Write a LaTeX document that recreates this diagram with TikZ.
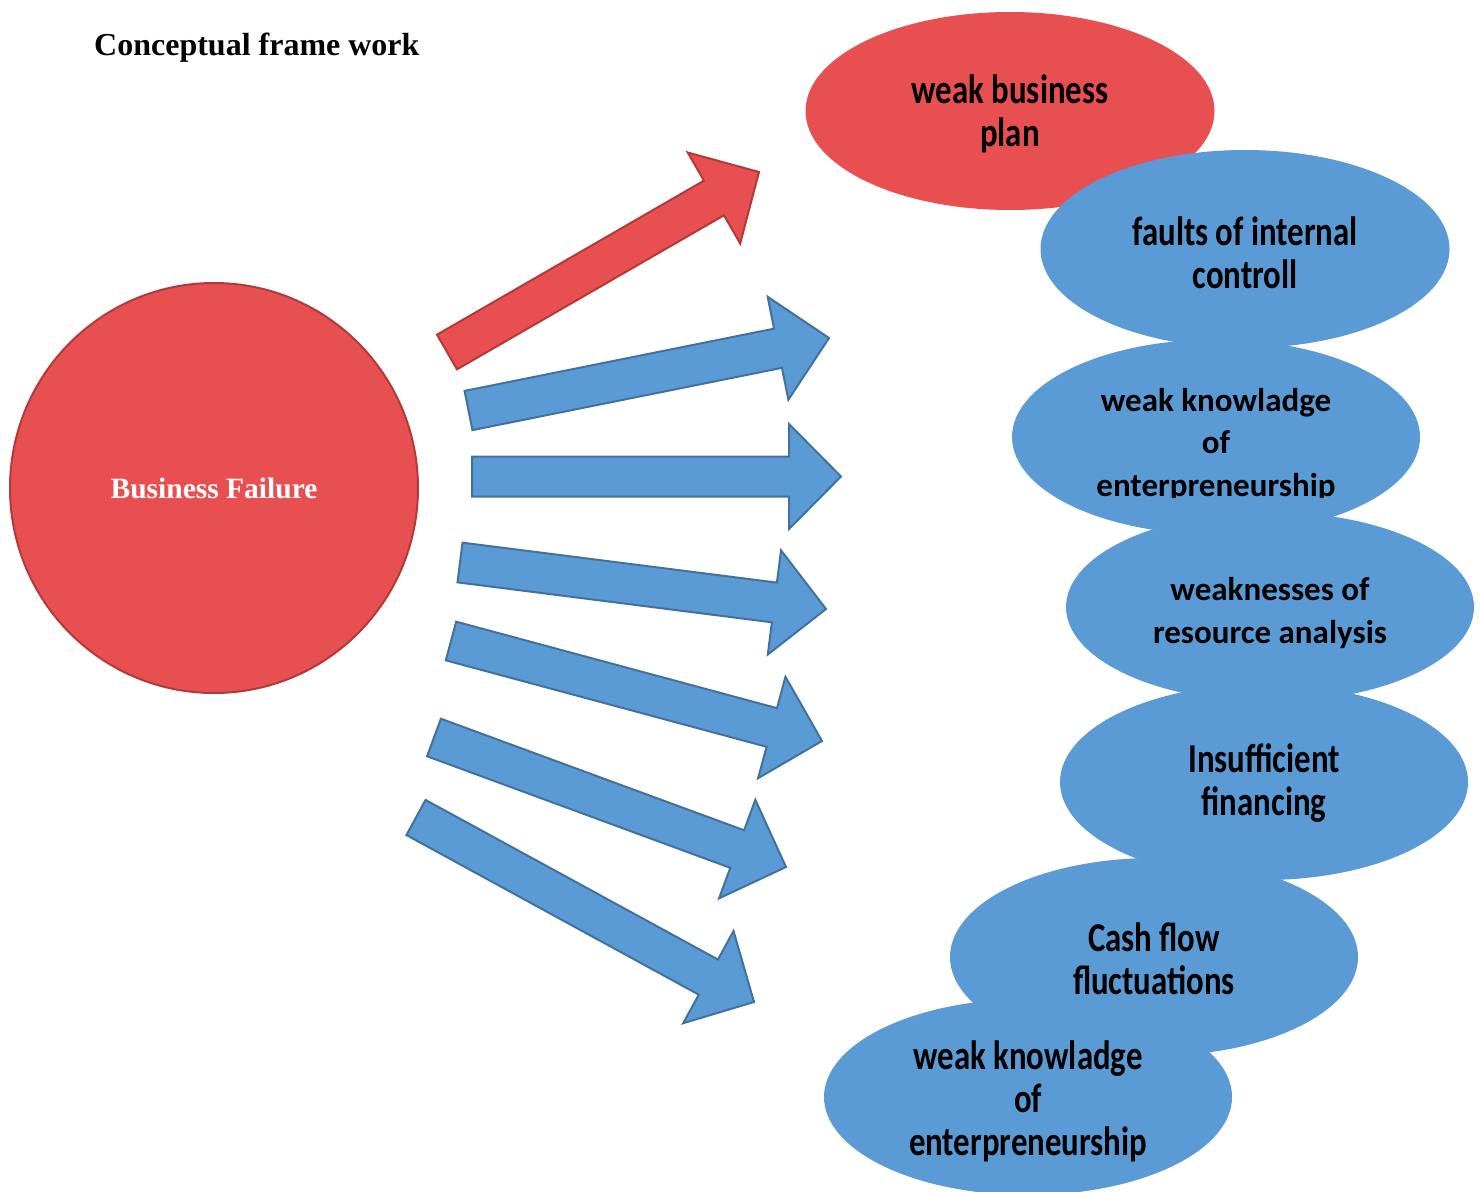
\documentclass[tikz,border=0pt]{standalone}
\usepackage{fontspec}
\setmainfont{Liberation Serif}
\newfontfamily\lblfont{Carlito}
\usetikzlibrary{calc,shapes.geometric}

\definecolor{failred}{HTML}{E84F50}
\definecolor{failredline}{HTML}{B23A3B}
\definecolor{causeblue}{HTML}{5B9BD5}
\definecolor{causeblueline}{HTML}{41719C}

\tikzset{
  bubble/.style={ellipse, inner sep=0pt, draw=none},
  redbubble/.style={bubble, fill=failred},
  bluebubble/.style={bubble, fill=causeblue},
  lbl/.style={inner sep=0pt, align=center, text=black,
    font=\lblfont\bfseries\fontsize{33}{42.5}\selectfont},
  lbltall/.style={inner sep=0pt, align=center, text=black,
    font=\lblfont\bfseries\fontsize{41}{43}\selectfont},
  redarrow/.style={fill=failred, draw=failredline, line width=2pt},
  bluearrow/.style={fill=causeblue, draw=causeblueline, line width=2pt},
}

% block arrow from a tail coordinate to a tip coordinate
\newcommand\blockarrow[3]{%
  \coordinate (hb) at ($(#2)!52pt!(#1)$);
  \draw[#3] ($(#1)!20pt!90:(#2)$) -- ($(hb)!20pt!-90:(#1)$)
    -- ($(hb)!52.5pt!-90:(#1)$) -- (#2) -- ($(hb)!52.5pt!90:(#1)$)
    -- ($(hb)!20pt!90:(#1)$) -- ($(#1)!20pt!-90:(#2)$) -- cycle;}

% horizontally condensed label
\newcommand\tallabel[4]{%
  \begin{scope}[shift={#2}, xscale=#3]
    \node[lbltall, transform shape] (#1) at (0,0) {#4};
  \end{scope}}

\begin{document}
\begin{tikzpicture}[x=1pt, y=-1pt]
\useasboundingbox (0,0) rectangle (1480,1191);

% title
\node[anchor=base west, inner sep=0pt, font=\bfseries\fontsize{32}{37}\selectfont]
  (title) at (94,55) {Conceptual frame work};

% central cause
\node[ellipse, minimum width=408pt, minimum height=410pt, inner sep=0pt,
  fill=failred, draw=failredline, line width=2pt, text=white,
  font=\bfseries\fontsize{29.5}{34}\selectfont] (bf) at (214,488) {Business Failure};

% effect bubbles
\node[redbubble, minimum width=409pt, minimum height=198pt] (e1) at (1010,111) {};
\node[bluebubble, minimum width=409pt, minimum height=198pt] (e2) at (1245,249) {};
\node[bluebubble, minimum width=408pt, minimum height=195pt] (e3) at (1216,437) {};
\node[bluebubble, minimum width=408pt, minimum height=190pt] (e4) at (1270,607) {};
\node[bluebubble, minimum width=408pt, minimum height=196pt] (e5) at (1264,782) {};
\node[bluebubble, minimum width=408pt, minimum height=198pt] (e6) at (1154,957) {};
\node[bluebubble, minimum width=408pt, minimum height=196pt] (e7) at (1028,1097) {};

% bubble labels
\tallabel{t1}{(1010,114)}{0.8}{weak business\\plan}
\tallabel{t2}{(1245,253)}{0.8}{faults of internal\\controll}
\begin{scope}
  \clip (800,300) rectangle (1480,497);
  \node[lbl] (t3) at (1216,445) {weak knowladge\\of\\enterpreneurship};
\end{scope}
\node[lbl] (t4) at (1270,613) {weaknesses of\\resource analysis};
\tallabel{t5}{(1264,783)}{0.8}{Insufficient\\financing}
\tallabel{t6}{(1154,959)}{0.8}{Cash flow\\fluctuations}
\tallabel{t7}{(1028,1101)}{0.8}{weak knowladge\\of\\enterpreneurship}

% arrow tails and tips
\coordinate (a0s) at (447,352);   \coordinate (a0e) at (759,172);
\coordinate (a1s) at (468.5,410.5); \coordinate (a1e) at (829,338);
\coordinate (a2s) at (472,476.5); \coordinate (a2e) at (841,476.5);
\coordinate (a3s) at (460,562.5); \coordinate (a3e) at (826,609);
\coordinate (a4s) at (451,641);   \coordinate (a4e) at (822,741);
\coordinate (a5s) at (434,737.5); \coordinate (a5e) at (786,867);
\coordinate (a6s) at (416,817.5); \coordinate (a6e) at (754,1002);

\blockarrow{a0s}{a0e}{redarrow}
\blockarrow{a1s}{a1e}{bluearrow}
\blockarrow{a2s}{a2e}{bluearrow}
\blockarrow{a3s}{a3e}{bluearrow}
\blockarrow{a4s}{a4e}{bluearrow}
\blockarrow{a5s}{a5e}{bluearrow}
\blockarrow{a6s}{a6e}{bluearrow}
\end{tikzpicture}
\end{document}
